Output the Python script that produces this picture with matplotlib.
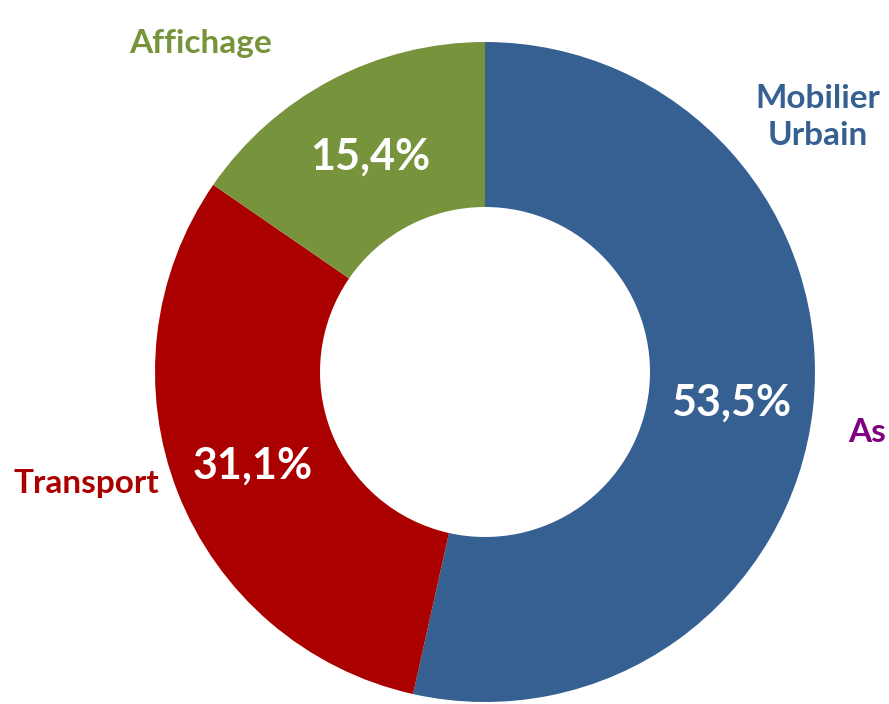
import matplotlib
matplotlib.use("Agg")
import matplotlib.pyplot as plt

categories = ["Mobilier\nUrbain", "Transport", "Affichage", "As"]
values = [53.5, 31.1, 15.4, 0.0]
pct_labels = ["53,5%", "31,1%", "15,4%", ""]
colors = ["#376092", "#AA0000", "#77933C", "#7F007F"]

W, H = 889, 704
cx, cy, R = 485, 372, 330

fig = plt.figure(figsize=(W / 100, H / 100), dpi=100)
ax = fig.add_axes([0, 0, 1, 1])

wedges, _ = ax.pie(values, colors=colors, startangle=90, counterclock=False,
                   radius=1.0, wedgeprops=dict(width=0.5, linewidth=0))

ax.set_xlim(-cx / R, (W - cx) / R)
ax.set_ylim(-(H - cy) / R, cy / R)
ax.set_aspect("equal")
ax.axis("off")

font = ["Lato", "DejaVu Sans"]

def px(x, y):
    return ((x - cx) / R, (cy - y) / R)

# percentage labels
pct_pos = [(731, 403), (253, 466), (370, 157)]
for (x, y), t in zip(pct_pos, pct_labels[:3]):
    ax.text(*px(x, y), t, color="white", fontsize=31, fontweight="bold",
            ha="center", va="center", family=font)

# category labels
cat_pos = [(818, 117, "center"), (86, 484, "center"), (201, 44, "center"), (886, 432, "right")]
for (x, y, ha), t, c in zip(cat_pos, categories, colors):
    ax.text(*px(x, y), t, color=c, fontsize=24, fontweight="bold",
            ha=ha, va="center", family=font, linespacing=1.3, clip_on=False)

fig.savefig("out.png", dpi=100)
